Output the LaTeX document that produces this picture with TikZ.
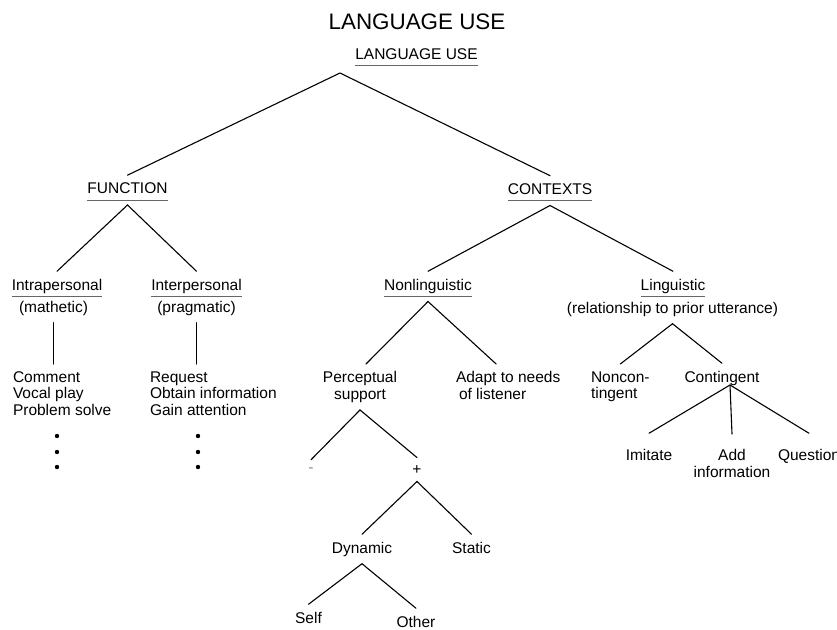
\documentclass[tikz,border=0pt]{standalone}
\usepackage{fontspec}
\setmainfont{Liberation Sans}
\usetikzlibrary{calc}
\tikzset{
  txt/.style={font=\fontsize{15.5}{16.5}\selectfont,inner sep=0pt,outer xsep=0pt,outer ysep=7.5pt},
  branch/.style={line width=1.1pt,line cap=round},
  uline/.style={line width=0.7pt,black!60}
}

\begin{document}
\begin{tikzpicture}[x=1pt,y=-1pt]
\useasboundingbox (0,0) rectangle (837,629);
\fill[white] (0,0) rectangle (837,629);
% labels
\node[txt,font=\fontsize{22.4}{24}\selectfont,anchor=base] (title) at (417,29) {LANGUAGE USE};
\node[txt,anchor=base] (lu) at (416.5,59) {LANGUAGE USE};
\node[txt,anchor=base] (fn) at (127.5,193.5) {FUNCTION};
\node[txt,anchor=base] (ct) at (550,194) {CONTEXTS};
\node[txt,anchor=base] (intra) at (57,290) {Intrapersonal};
\node[txt,anchor=base] (intrab) at (53.5,312) {(mathetic)};
\node[txt,anchor=base] (inter) at (196.5,290) {Interpersonal};
\node[txt,anchor=base] (interb) at (196.5,312) {(pragmatic)};
\node[txt,anchor=base] (nonl) at (428,290) {Nonlinguistic};
\node[txt,anchor=base] (ling) at (673,290) {Linguistic};
\node[txt,anchor=base] (lingb) at (672.5,313) {(relationship to prior utterance)};
\node[txt,anchor=north west,align=left] (cmt) at (13,364) {Comment\\Vocal play\\Problem solve};
\node[txt,anchor=north west,align=left] (req) at (150,364) {Request\\Obtain information\\Gain attention};
\node[txt,anchor=north,align=center] (perc) at (360,364) {Perceptual\\support};
\node[txt,anchor=north west,align=left] (adapt) at (456,364) {Adapt to needs\\\hspace*{3pt}of listener};
\node[txt,anchor=north west,align=left] (nonc) at (591,364) {Noncon-\\tingent};
\node[txt,anchor=base] (cont) at (722,382) {Contingent};
\node[txt,anchor=base,black!45] (minus) at (311,472) {-};
\node[txt,anchor=base] (plus) at (417,474) {+};
\node[txt,anchor=base] (imit) at (649,460) {Imitate};
\node[txt,anchor=north,align=center] (addi) at (732,442) {Add\\information};
\node[txt,anchor=base west] (ques) at (778,460) {Question};
\node[txt,anchor=base] (dyn) at (362,553) {Dynamic};
\node[txt,anchor=base] (stat) at (471.5,553) {Static};
\node[txt,anchor=base] (self) at (308.5,623) {Self};
\node[txt,anchor=base] (other) at (416,627) {Other};
% underlines
\foreach \n in {lu,fn,ct,intra,inter,nonl,ling}
  \draw[uline] ([yshift=-6.5pt]\n.base west) -- ([yshift=-6.5pt]\n.base east);
% junctions
\coordinate (top) at (340,73);
\coordinate (fnj) at ([yshift=-11.5pt]fn.base);
\coordinate (ctj) at ([yshift=-11.5pt]ct.base);
\coordinate (nonlj) at ([yshift=-11.5pt]nonl.base);
\coordinate (contj) at ([xshift=8pt,yshift=-3pt]cont.base);
% branches
\draw[branch] (fn.north) -- (top) -- (ct.north);
\draw[branch] (intra.north) -- (fnj) -- (inter.north);
\draw[branch] (nonl.north) -- (ctj) -- (ling.north);
\draw[branch] (intrab.south) -- (intrab.south |- cmt.north);
\draw[branch] (interb.south) -- (interb.south |- req.north);
\draw[branch] ([xshift=6pt]perc.north) -- (nonlj) -- ([xshift=-12pt]adapt.north);
\draw[branch] (nonc.north) -- (lingb.south) -- (cont.north);
\draw[branch] (minus.north) -- (perc.south) -- (plus.north);
\draw[branch] (dyn.north) -- (plus.south) -- (stat.north);
\draw[branch] (self.north) -- (dyn.south) -- (other.north);
\draw[branch] ([yshift=8pt]imit.north) -- (contj) -- ([yshift=8pt]ques.north);
\draw[branch] (contj) -- ([yshift=8pt]addi.north);
% dots
\foreach \x in {57,198}
  \foreach \y in {436,452,467}
    \fill (\x,\y) circle[radius=2.2pt];
\end{tikzpicture}
\end{document}
